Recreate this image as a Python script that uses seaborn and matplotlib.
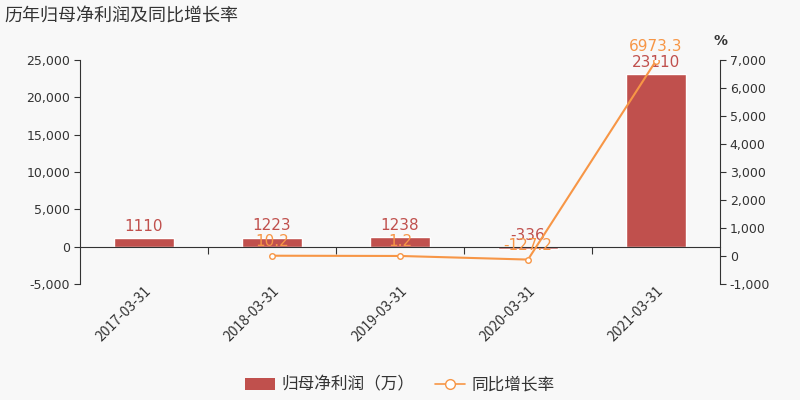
import numpy as np
import pandas as pd
import matplotlib
matplotlib.use('Agg')
import matplotlib.pyplot as plt
import seaborn as sns
from matplotlib.lines import Line2D
from matplotlib.patches import Patch

sns.set_theme(style="white")
plt.rcParams['font.family'] = ['Noto Sans CJK SC', 'DejaVu Sans']
plt.rcParams['axes.unicode_minus'] = False

dates = ['2017-03-31', '2018-03-31', '2019-03-31', '2020-03-31', '2021-03-31']
profit = [1110, 1223, 1238, -336, 23110]
growth_dates = ['2018-03-31', '2019-03-31', '2020-03-31', '2021-03-31']
growth = [10.2, 1.2, -127.2, 6973.3]

bar_color = '#c0504d'
line_color = '#f79646'
bg = '#f8f8f8'
num_font = ['DejaVu Sans']

df_bar = pd.DataFrame({'date': dates, 'profit': profit})
df_line = pd.DataFrame({'date': growth_dates, 'growth': growth})
df_line['pos'] = df_line['date'].map({d: i for i, d in enumerate(dates)})

fig = plt.figure(figsize=(8, 4), dpi=100, facecolor=bg)
ax = fig.add_axes([0.1, 0.29, 0.8, 0.56])
ax.set_facecolor(bg)

sns.barplot(data=df_bar, x='date', y='profit', color=bar_color, width=0.47,
            saturation=1, ax=ax)
ax.set_ylim(-5000, 25000)
ax.set_yticks(np.arange(-5000, 25001, 5000))
ax.yaxis.set_major_formatter(matplotlib.ticker.FuncFormatter(lambda v, p: f'{int(v):,}'))
ax.set_xlim(-0.5, len(dates) - 0.5)
ax.set_xlabel('')
ax.set_ylabel('')

for s in ['top', 'right']:
    ax.spines[s].set_visible(False)
ax.spines['left'].set_color('#333333')
ax.spines['left'].set_linewidth(0.8)
ax.spines['bottom'].set_position(('data', 0))
ax.spines['bottom'].set_color('#333333')
ax.spines['bottom'].set_linewidth(0.8)

ax.tick_params(axis='y', left=True, length=4, width=0.8, color='#333333',
               labelsize=9, labelcolor='#333333', pad=3)
for t in ax.get_yticklabels():
    t.set_family(num_font)
ax.set_xticks(np.arange(0.5, len(dates) - 1, 1), minor=True)
ax.tick_params(axis='x', which='minor', bottom=True, length=5, width=0.8, color='#333333')
ax.tick_params(axis='x', which='major', bottom=False, length=0, pad=27)
ax.set_xticks(range(len(dates)))
ax.set_xticklabels(dates, rotation=45, ha='right', rotation_mode='anchor',
                   fontsize=10, color='#333333')

for i, v in enumerate(profit):
    ax.annotate(f'{v}', (i, max(v, 0)), xytext=(0, 3), textcoords='offset points',
                ha='center', va='bottom', color=bar_color, fontsize=11, family=num_font)

ax2 = ax.twinx()
sns.lineplot(data=df_line, x='pos', y='growth', color=line_color, linewidth=1.5,
             marker='o', markersize=4, markerfacecolor='white',
             markeredgecolor=line_color, markeredgewidth=1, ax=ax2)
ax2.set_ylim(-1000, 7000)
ax2.set_yticks(np.arange(-1000, 7001, 1000))
ax2.yaxis.set_major_formatter(matplotlib.ticker.FuncFormatter(lambda v, p: f'{int(v):,}'))
ax2.set_xlim(-0.5, len(dates) - 0.5)
ax2.set_xlabel('')
ax2.set_ylabel('')
for s in ['top', 'left', 'bottom']:
    ax2.spines[s].set_visible(False)
ax2.spines['right'].set_color('#333333')
ax2.spines['right'].set_linewidth(0.8)
ax2.tick_params(axis='y', right=True, length=4, width=0.8, color='#333333',
                labelsize=9, labelcolor='#333333', pad=3)
for t in ax2.get_yticklabels():
    t.set_family(num_font)
ax2.text(1.0, 1.055, '%', transform=ax2.transAxes, ha='center', va='bottom',
         fontsize=10, color='#333333', family=num_font, fontweight='bold')

for p, v in zip(df_line['pos'], growth):
    ax2.annotate(f'{v}', (p, v), xytext=(0, 5), textcoords='offset points',
                 ha='center', va='bottom', color=line_color, fontsize=11, family=num_font)

fig.text(0.006, 0.96, '历年归母净利润及同比增长率', ha='left', va='center',
         fontsize=13, color='#333333')

handles = [Patch(facecolor=bar_color, edgecolor='none'),
           Line2D([0], [0], color=line_color, linewidth=1.2, marker='o', markersize=7,
                  markerfacecolor='white', markeredgecolor=line_color)]
fig.legend(handles, ['归母净利润（万）', '同比增长率'], loc='center', bbox_to_anchor=(0.5, 0.037),
           ncol=2, frameon=False, fontsize=12, handlelength=1.8, columnspacing=1.2,
           handletextpad=0.4, labelcolor='#333333')

fig.savefig('out.png', dpi=100, facecolor=bg)
